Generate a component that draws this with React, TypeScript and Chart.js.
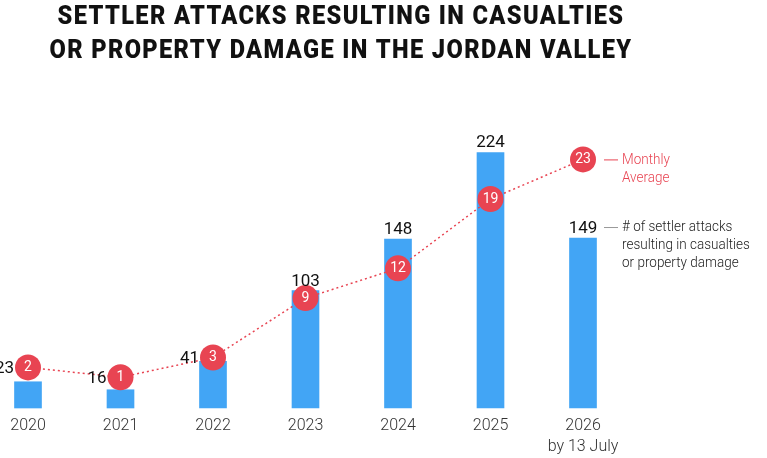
import React, { useEffect, useRef } from "react";
import { Chart, registerables } from "chart.js";

Chart.register(...registerables);

// Yearly data
const categories = ["2020", "2021", "2022", "2023", "2024", "2025", "2026"];
const tickLabels: (string | string[])[] = ["2020", "2021", "2022", "2023", "2024", "2025", ["2026", "by 13 July"]];
const attacks = [23, 16, 41, 103, 148, 224, 149];
const monthlyAverage = [2, 1, 3, 9, 12, 19, 23];

const titleLines = ["SETTLER ATTACKS RESULTING IN CASUALTIES", "OR PROPERTY DAMAGE IN THE JORDAN VALLEY"];
const averageNote = ["Monthly", "Average"];
const attacksNote = ["# of settler attacks", "resulting in casualties", "or property damage"];

const BLUE = "#42A5F5";
const RED = "#E84452";
const FONT = "Roboto, 'Noto Sans', sans-serif";

const titlePlugin = {
  id: "twoLineTitle",
  afterDraw(chart: any) {
    const ctx = chart.ctx as CanvasRenderingContext2D;
    ctx.save();
    ctx.font = `900 26px ${FONT}`;
    (ctx as any).letterSpacing = "1.5px";
    ctx.fillStyle = "#111";
    ctx.textAlign = "center";
    ctx.textBaseline = "alphabetic";
    const w = ctx.measureText(titleLines[1]).width;
    const sx = 583 / w;
    const baselines = [23.5, 58];
    titleLines.forEach((line, i) => {
      ctx.save();
      ctx.translate(341, baselines[i]);
      ctx.scale(sx, 1);
      ctx.fillText(line, 0, 0);
      ctx.restore();
    });
    ctx.restore();
  },
};

// narrow text drawn left-aligned from (x, y)
function narrowText(ctx: CanvasRenderingContext2D, text: string, x: number, y: number, sx: number) {
  ctx.save();
  ctx.translate(x, y);
  ctx.scale(sx, 1);
  ctx.fillText(text, 0, 0);
  ctx.restore();
}

const labelsPlugin = {
  id: "valueLabels",
  afterDatasetsDraw(chart: any) {
    const ctx = chart.ctx as CanvasRenderingContext2D;
    const bars = chart.getDatasetMeta(0).data;
    const dots = chart.getDatasetMeta(1).data;
    ctx.save();

    // numbers inside the average circles
    ctx.font = `400 14px ${FONT}`;
    ctx.fillStyle = "#fff";
    ctx.textAlign = "center";
    ctx.textBaseline = "middle";
    dots.forEach((p: any, i: number) => {
      ctx.fillText(String(monthlyAverage[i]), p.x, p.y + 0.5);
    });

    // bar totals: beside the circle when it sits on the bar top, otherwise above the bar
    ctx.font = `400 17px ${FONT}`;
    ctx.fillStyle = "#111";
    bars.forEach((b: any, i: number) => {
      const d = dots[i];
      const r = d.options.radius;
      if (d.y < b.y && b.y - d.y < 40) {
        ctx.textAlign = "right";
        ctx.textBaseline = "middle";
        ctx.fillText(String(attacks[i]), d.x - r - 1, d.y + 1);
      } else {
        ctx.textAlign = "center";
        ctx.textBaseline = "alphabetic";
        ctx.fillText(String(attacks[i]), b.x, b.y - 5);
      }
    });

    // series notes to the right of the last year
    const last = dots.length - 1;
    const d = dots[last];
    ctx.lineWidth = 1;
    ctx.strokeStyle = RED;
    ctx.beginPath();
    ctx.moveTo(d.x + 21, d.y + 0.5);
    ctx.lineTo(d.x + 35, d.y + 0.5);
    ctx.stroke();
    ctx.font = `300 15px ${FONT}`;
    ctx.fillStyle = RED;
    ctx.textAlign = "left";
    ctx.textBaseline = "middle";
    averageNote.forEach((t, i) => narrowText(ctx, t, d.x + 39, d.y + 1 + i * 18, 0.9));

    const b = bars[last];
    const ly = b.y - 11;
    ctx.strokeStyle = "#999";
    ctx.beginPath();
    ctx.moveTo(b.x + 21, ly + 0.5);
    ctx.lineTo(b.x + 35, ly + 0.5);
    ctx.stroke();
    ctx.fillStyle = "#222";
    attacksNote.forEach((t, i) => narrowText(ctx, t, b.x + 39, ly + i * 18, 0.9));

    ctx.restore();
  },
};

export default function App() {
  const ref = useRef<HTMLCanvasElement>(null);

  useEffect(() => {
    if (!ref.current) return;
    const chart = new Chart(ref.current, {
      type: "bar",
      data: {
        labels: categories,
        datasets: [
          {
            type: "bar",
            data: attacks,
            backgroundColor: BLUE,
            barThickness: 27,
            yAxisID: "y",
            clip: false as any,
            order: 1,
          },
          {
            type: "line",
            data: monthlyAverage,
            yAxisID: "y2",
            borderColor: RED,
            borderWidth: 1.5,
            borderDash: [2, 3],
            tension: 0,
            pointRadius: 13,
            pointBackgroundColor: RED,
            pointBorderWidth: 0,
            clip: false as any,
            order: 0,
          },
        ] as any,
      },
      options: {
        animation: false,
        responsive: true,
        maintainAspectRatio: false,
        events: [],
        layout: { padding: { top: 100, left: 28, right: 184, bottom: 0 } },
        plugins: {
          legend: { display: false },
          tooltip: { enabled: false },
          title: { display: false },
        },
        scales: {
          x: {
            type: "category",
            offset: false,
            grid: { display: false, drawTicks: false },
            border: { display: false },
            ticks: {
              padding: 8,
              color: "#333",
              font: { family: FONT, size: 16, weight: 300 as any, lineHeight: 1.3 },
              maxRotation: 0,
              autoSkip: false,
              callback: (_v: any, i: number) => tickLabels[i],
            },
            afterFit: (scale: any) => {
              scale.height = 50;
            },
          },
          y: {
            display: false,
            min: 0,
            max: 270,
          },
          y2: {
            display: false,
            min: -2.1,
            max: 29,
          },
        },
      },
      plugins: [titlePlugin, labelsPlugin],
    });
    return () => chart.destroy();
  }, []);

  return (
    <div style={{ position: "fixed", left: 0, top: 0, width: 767, height: 458, background: "#fff" }}>
      <canvas ref={ref} />
    </div>
  );
}
